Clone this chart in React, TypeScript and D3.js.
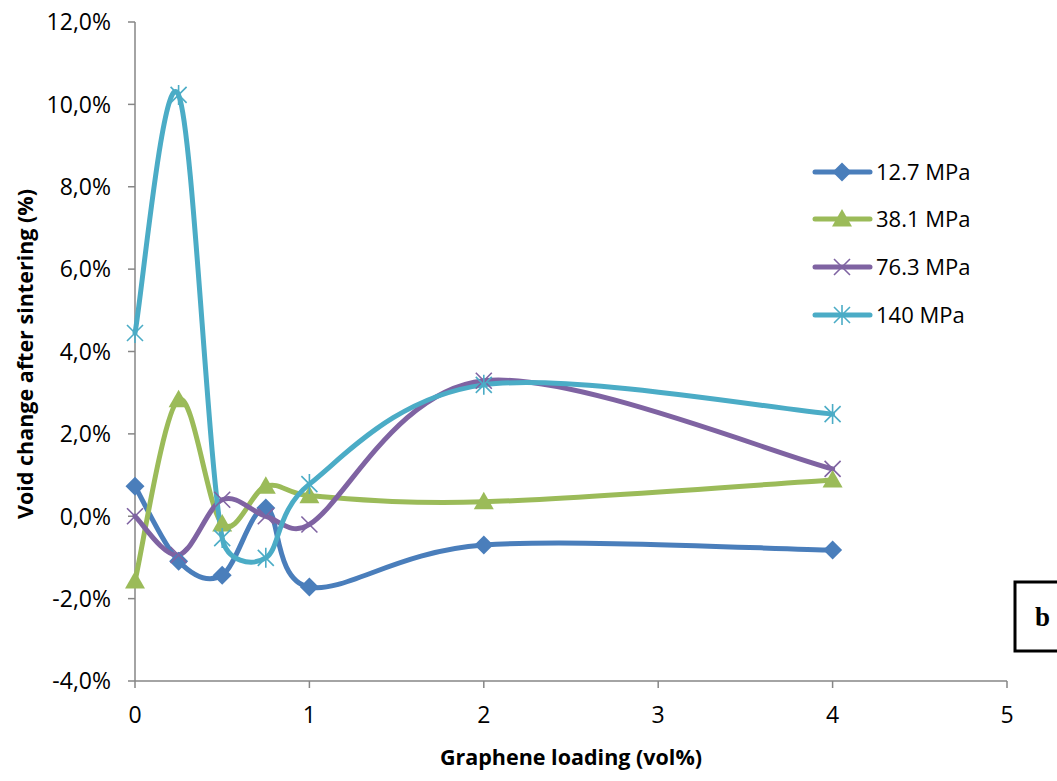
import React from "react";
import * as d3 from "d3";

const xValues = [0, 0.25, 0.5, 0.75, 1, 2, 4];
const seriesNames = ["12.7 MPa", "38.1 MPa", "76.3 MPa", "140 MPa"];
const s127 = [0.73, -1.09, -1.43, 0.2, -1.72, -0.7, -0.82];
const s381 = [-1.57, 2.83, -0.19, 0.73, 0.5, 0.35, 0.88];
const s763 = [0.0, -0.94, 0.4, 0.0, -0.2, 3.29, 1.15];
const s140 = [4.45, 10.23, -0.53, -1.01, 0.78, 3.19, 2.48];
const xTicks = [0, 1, 2, 3, 4, 5];
const yTicks = [-4, -2, 0, 2, 4, 6, 8, 10, 12];

const colors = ["#4a7ebb", "#9bbb59", "#7f63a2", "#4bacc6"];
const markers = ["diamond", "triangle", "x", "star"];

const W = 1057;
const H = 781;

// Excel-like smoothing: Bezier with tangents (P[i+1]-P[i-1])/6, capped at half segment length
function excelSmooth(pts: [number, number][]): string {
  const p = d3.path();
  const n = pts.length;
  const tan = pts.map((_, i) => {
    const a = pts[Math.max(0, i - 1)];
    const b = pts[Math.min(n - 1, i + 1)];
    return [(b[0] - a[0]) / 6, (b[1] - a[1]) / 6] as [number, number];
  });
  const cap = (t: [number, number], len: number): [number, number] => {
    const l = Math.hypot(t[0], t[1]);
    if (l > len / 2 && l > 0) {
      const s = len / 2 / l;
      return [t[0] * s, t[1] * s];
    }
    return t;
  };
  p.moveTo(pts[0][0], pts[0][1]);
  for (let i = 0; i < n - 1; i++) {
    const a = pts[i];
    const b = pts[i + 1];
    const len = Math.hypot(b[0] - a[0], b[1] - a[1]);
    const t1 = cap(tan[i], len);
    const t2 = cap(tan[i + 1], len);
    p.bezierCurveTo(a[0] + t1[0], a[1] + t1[1], b[0] - t2[0], b[1] - t2[1], b[0], b[1]);
  }
  return p.toString();
}

function Marker({ type, x, y, color }: { type: string; x: number; y: number; color: string }) {
  if (type === "diamond") {
    const r = 9.5;
    return <path d={`M${x},${y - r}L${x + r},${y}L${x},${y + r}L${x - r},${y}Z`} fill={color} />;
  }
  if (type === "triangle") {
    const r = 10;
    return <path d={`M${x},${y - r}L${x + r},${y + r * 0.75}L${x - r},${y + r * 0.75}Z`} fill={color} />;
  }
  if (type === "x") {
    const r = 8;
    return (
      <path d={`M${x - r},${y - r}L${x + r},${y + r}M${x - r},${y + r}L${x + r},${y - r}`} stroke={color} strokeWidth={1.6} fill="none" />
    );
  }
  const r = 8;
  return (
    <path
      d={`M${x - r},${y - r}L${x + r},${y + r}M${x - r},${y + r}L${x + r},${y - r}M${x},${y - r * 1.25}L${x},${y + r * 1.25}`}
      stroke={color}
      strokeWidth={1.6}
      fill="none"
    />
  );
}

export default function App() {
  const x = d3.scaleLinear().domain([0, 5]).range([135, 1007]);
  const y = d3.scaleLinear().domain([-4, 12]).range([681, 22]);
  const series = [s127, s381, s763, s140];
  const font = "'Open Sans', 'Liberation Sans', sans-serif";
  const fmt = (v: number) => v.toFixed(1).replace(".", ",") + "%";
  const legendY = [172, 219, 267, 315];

  return (
    <svg width={W} height={H} style={{ position: "absolute", left: 0, top: 0, background: "#fff" }} fontFamily={font}>
      <rect width={W} height={H} fill="#fff" />
      {/* axes */}
      <line x1={135} x2={135} y1={22} y2={681} stroke="#868686" strokeWidth={1.5} />
      <line x1={135} x2={1007} y1={681} y2={681} stroke="#868686" strokeWidth={1.5} />
      {yTicks.map((t) => (
        <g key={"y" + t}>
          <line x1={128} x2={135} y1={y(t)} y2={y(t)} stroke="#868686" strokeWidth={1.5} />
          <text x={111} y={y(t)} dy="0.36em" textAnchor="end" fontSize={23} fill="#000">
            {fmt(t)}
          </text>
        </g>
      ))}
      {xTicks.map((t) => (
        <g key={"x" + t}>
          <line x1={x(t)} x2={x(t)} y1={681} y2={688} stroke="#868686" strokeWidth={1.5} />
          <text x={x(t)} y={723} textAnchor="middle" fontSize={23} fill="#000">
            {t}
          </text>
        </g>
      ))}
      <text x={571} y={765} textAnchor="middle" fontSize={21.5} fontWeight="bold" fill="#000">
        Graphene loading (vol%)
      </text>
      <text
        transform="translate(33,354) rotate(-90)"
        textAnchor="middle"
        fontSize={21.5}
        fontWeight="bold"
        fill="#000"
      >
        Void change after sintering (%)
      </text>
      {/* lines */}
      {series.map((s, i) => (
        <path
          key={"l" + i}
          d={excelSmooth(xValues.map((xv, j) => [x(xv), y(s[j])] as [number, number]))}
          fill="none"
          stroke={colors[i]}
          strokeWidth={5}
          strokeLinejoin="round"
          strokeLinecap="round"
        />
      ))}
      {series.map((s, i) =>
        xValues.map((xv, j) => (
          <Marker key={"m" + i + "-" + j} type={markers[i]} x={x(xv)} y={y(s[j])} color={colors[i]} />
        ))
      )}
      {/* legend */}
      {seriesNames.map((n, i) => (
        <g key={"lg" + i}>
          <line x1={815} x2={870} y1={legendY[i]} y2={legendY[i]} stroke={colors[i]} strokeWidth={5} strokeLinecap="round" />
          <Marker type={markers[i]} x={842} y={legendY[i]} color={colors[i]} />
          <text x={876} y={legendY[i]} dy="0.36em" fontSize={22} fill="#000">
            {n}
          </text>
        </g>
      ))}
      {/* b box */}
      <rect x={1015} y={582} width={60} height={69} fill="#fff" stroke="#000" strokeWidth={3} />
      <text x={1035} y={626} fontSize={27} fontWeight="bold" fontFamily="'Liberation Serif', serif" fill="#000">
        b
      </text>
    </svg>
  );
}
